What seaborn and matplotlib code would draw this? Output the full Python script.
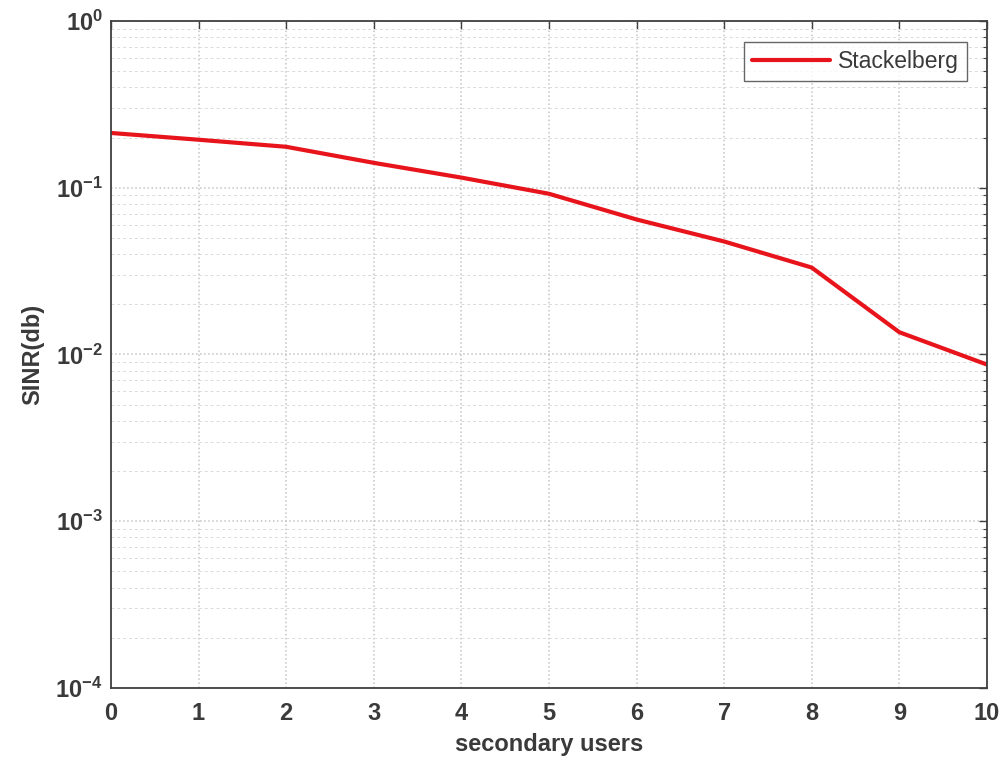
import numpy as np
import pandas as pd
import matplotlib
matplotlib.use("Agg")
import matplotlib.pyplot as plt
import seaborn as sns
from matplotlib.ticker import LogLocator, NullFormatter, FuncFormatter

# dados
users = [0, 1, 2, 3, 4, 5, 6, 7, 8, 9, 10]
sinr = [0.213, 0.194, 0.176, 0.141, 0.115, 0.092, 0.0645, 0.0476, 0.0332, 0.0136, 0.0087]
series_name = "Stackelberg"
x_ticks = list(range(0, 11))

df = pd.DataFrame({"secondary users": users, "SINR": sinr, "serie": series_name})

sns.set_style("white")
plt.rcParams["font.family"] = ["Liberation Sans", "DejaVu Sans"]
plt.rcParams["mathtext.fontset"] = "custom"
plt.rcParams["mathtext.rm"] = "Liberation Sans:bold"
plt.rcParams["mathtext.bf"] = "Liberation Sans:bold"
plt.rcParams["mathtext.default"] = "bf"

txt = "#3a3a3a"

fig = plt.figure(figsize=(10.05, 7.71), dpi=100)
ax = fig.add_axes([0.1104, 0.1077, 0.8716, 0.8651])

sns.lineplot(data=df, x="secondary users", y="SINR", hue="serie",
             palette=["#e8141c"], linewidth=3.0, ax=ax)

ax.set_yscale("log")
ax.set_ylim(1e-4, 1)
ax.set_xlim(0, 10)
ax.set_xticks(x_ticks)
ax.yaxis.set_minor_locator(LogLocator(base=10, subs=np.arange(2, 10)))
ax.yaxis.set_minor_formatter(NullFormatter())
ax.yaxis.set_major_formatter(FuncFormatter(lambda v, p: r"$10^{%d}$" % int(round(np.log10(v)))))

ax.grid(True, which="major", color="#c4c4c4", linestyle=":", linewidth=1.1)
ax.grid(True, which="minor", axis="y", color="#dadada", linestyle="--", linewidth=0.7, dashes=(3, 3))

ax.tick_params(which="both", direction="in", top=True, right=True,
               labelsize=17, colors="#404040", labelcolor=txt)
ax.tick_params(which="major", length=6, width=1)
ax.tick_params(which="minor", length=3, width=0.8)
ax.tick_params(axis="x", pad=10)
ax.tick_params(axis="y", pad=6)
for lab in ax.get_xticklabels():
    lab.set_fontweight("bold")
for s in ax.spines.values():
    s.set_color("#404040")
    s.set_linewidth(1.3)

ax.set_xlabel("secondary users", fontsize=17, fontweight="bold", color=txt, labelpad=6)
ax.set_ylabel("SINR(db)", fontsize=17, fontweight="bold", color=txt, labelpad=8)

leg = ax.legend(loc="upper right", fontsize=16.5, frameon=True, fancybox=False,
                handlelength=3.4, handletextpad=0.35, borderpad=0.35,
                borderaxespad=0, bbox_to_anchor=(0.977, 0.969))
leg.get_frame().set_edgecolor("#404040")
leg.get_frame().set_linewidth(1.0)
for t in leg.get_texts():
    t.set_color(txt)

fig.savefig("out.png", dpi=100)
